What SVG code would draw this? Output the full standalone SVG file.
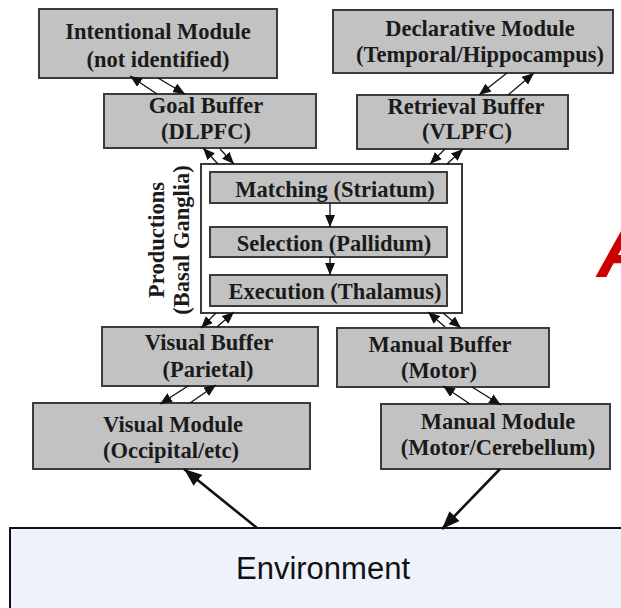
<svg xmlns="http://www.w3.org/2000/svg" width="621" height="608" viewBox="0 0 621 608">
  <style>
    .box { fill: #c2c2c2; stroke: #3a3a3a; stroke-width: 2; }
    .frame { fill: #ffffff; stroke: #3a3a3a; stroke-width: 2; }
    .lbl { font-family: "Liberation Serif", "Times New Roman", serif; font-weight: bold; font-size: 22.5px; fill: #1a1a1a; text-anchor: middle; }
    .thin { stroke: #111; stroke-width: 1.3; fill: none; marker-end: url(#headSmall); }
    .thick { stroke: #111; stroke-width: 2.6; fill: none; marker-end: url(#headBig); }
  </style>
  <defs>
    <marker id="headSmall" viewBox="0 0 12 10" refX="12" refY="5" markerWidth="12" markerHeight="10" markerUnits="userSpaceOnUse" orient="auto">
      <path d="M0,0 L12,5 L0,10 Z" fill="#111"/>
    </marker>
    <marker id="headBig" viewBox="0 0 18 14" refX="18" refY="7" markerWidth="18" markerHeight="14" markerUnits="userSpaceOnUse" orient="auto">
      <path d="M0,0 L18,7 L0,14 Z" fill="#111"/>
    </marker>
  </defs>

  <rect width="621" height="608" fill="#ffffff"/>

  <g id="environment">
    <rect x="10" y="528" width="620" height="90" fill="#eef3fb" stroke="#111" stroke-width="2"/>
    <text x="323" y="579" font-family="Liberation Sans, Arial, sans-serif" font-size="31" fill="#111" text-anchor="middle">Environment</text>
  </g>

  <g id="intentional-module">
    <rect class="box" x="39" y="9" width="238" height="69"/>
    <text class="lbl" x="158" y="39">Intentional Module</text>
    <text class="lbl" x="158" y="67">(not identified)</text>
  </g>

  <g id="declarative-module">
    <rect class="box" x="333" y="10" width="280" height="63"/>
    <text class="lbl" x="480" y="36">Declarative Module</text>
    <text class="lbl" x="480" y="62">(Temporal/Hippocampus)</text>
  </g>

  <g id="goal-buffer">
    <rect class="box" x="104" y="94" width="212" height="54"/>
    <text class="lbl" x="206" y="113">Goal Buffer</text>
    <text class="lbl" x="206" y="139">(DLPFC)</text>
  </g>

  <g id="retrieval-buffer">
    <rect class="box" x="357" y="95" width="211" height="54"/>
    <text class="lbl" x="466" y="114">Retrieval Buffer</text>
    <text class="lbl" x="467" y="139">(VLPFC)</text>
  </g>

  <g id="productions">
    <rect class="frame" x="201" y="164" width="261" height="149"/>
    <text class="lbl" transform="translate(164,240) rotate(-90)">Productions</text>
    <text class="lbl" transform="translate(189,240) rotate(-90)">(Basal Ganglia)</text>
  </g>

  <g id="matching">
    <rect class="box" x="210" y="172" width="237" height="31"/>
    <text class="lbl" x="335" y="197">Matching (Striatum)</text>
  </g>

  <g id="selection">
    <rect class="box" x="210" y="227" width="237" height="30"/>
    <text class="lbl" x="334" y="251">Selection (Pallidum)</text>
  </g>

  <g id="execution">
    <rect class="box" x="210" y="275" width="237" height="31"/>
    <text class="lbl" x="335" y="299">Execution (Thalamus)</text>
  </g>

  <g id="visual-buffer">
    <rect class="box" x="102" y="327" width="216" height="59"/>
    <text class="lbl" x="209" y="350">Visual Buffer</text>
    <text class="lbl" x="208" y="377">(Parietal)</text>
  </g>

  <g id="manual-buffer">
    <rect class="box" x="337" y="328" width="212" height="59"/>
    <text class="lbl" x="440" y="352">Manual Buffer</text>
    <text class="lbl" x="439" y="378">(Motor)</text>
  </g>

  <g id="visual-module">
    <rect class="box" x="33" y="403" width="277" height="66"/>
    <text class="lbl" x="173" y="432">Visual Module</text>
    <text class="lbl" x="171" y="458">(Occipital/etc)</text>
  </g>

  <g id="manual-module">
    <rect class="box" x="381" y="404" width="229" height="65"/>
    <text class="lbl" x="498" y="429">Manual Module</text>
    <text class="lbl" x="498" y="455">(Motor/Cerebellum)</text>
  </g>

  <g id="connectors">
    <!-- intentional module <-> goal buffer -->
    <line class="thin" x1="157" y1="94" x2="130" y2="76"/>
    <line class="thin" x1="158" y1="78" x2="185" y2="94"/>
    <!-- declarative module <-> retrieval buffer -->
    <line class="thin" x1="507" y1="73" x2="479" y2="95"/>
    <line class="thin" x1="508" y1="95" x2="534" y2="73"/>
    <!-- goal buffer <-> productions -->
    <line class="thin" x1="218" y1="164" x2="203" y2="148"/>
    <line class="thin" x1="220" y1="149" x2="234" y2="164"/>
    <!-- retrieval buffer <-> productions -->
    <line class="thin" x1="445" y1="149" x2="430" y2="164"/>
    <line class="thin" x1="447" y1="164" x2="463" y2="149"/>
    <!-- production stages -->
    <line class="thin" x1="330" y1="203" x2="330" y2="227"/>
    <line class="thin" x1="330" y1="257" x2="330" y2="275"/>
    <!-- productions <-> visual buffer -->
    <line class="thin" x1="216" y1="313" x2="201" y2="328"/>
    <line class="thin" x1="217" y1="327" x2="234" y2="312"/>
    <!-- productions <-> manual buffer -->
    <line class="thin" x1="445" y1="327" x2="428" y2="312"/>
    <line class="thin" x1="443" y1="313" x2="461" y2="328"/>
    <!-- visual buffer <-> visual module -->
    <line class="thin" x1="188" y1="386" x2="160" y2="404"/>
    <line class="thin" x1="190" y1="403" x2="216" y2="385"/>
    <!-- manual buffer <-> manual module -->
    <line class="thin" x1="470" y1="404" x2="443" y2="386"/>
    <line class="thin" x1="472" y1="387" x2="501" y2="405"/>
    <!-- environment links -->
    <line class="thick" x1="257" y1="528" x2="184" y2="469"/>
    <line class="thick" x1="500" y1="469" x2="442" y2="529"/>
  </g>

  <!-- panel letter, running off the right edge -->
  <text x="597" y="277" font-family="Liberation Sans, Arial, sans-serif" font-weight="bold" font-style="italic" font-size="76" fill="#cc0000">A</text>
</svg>
